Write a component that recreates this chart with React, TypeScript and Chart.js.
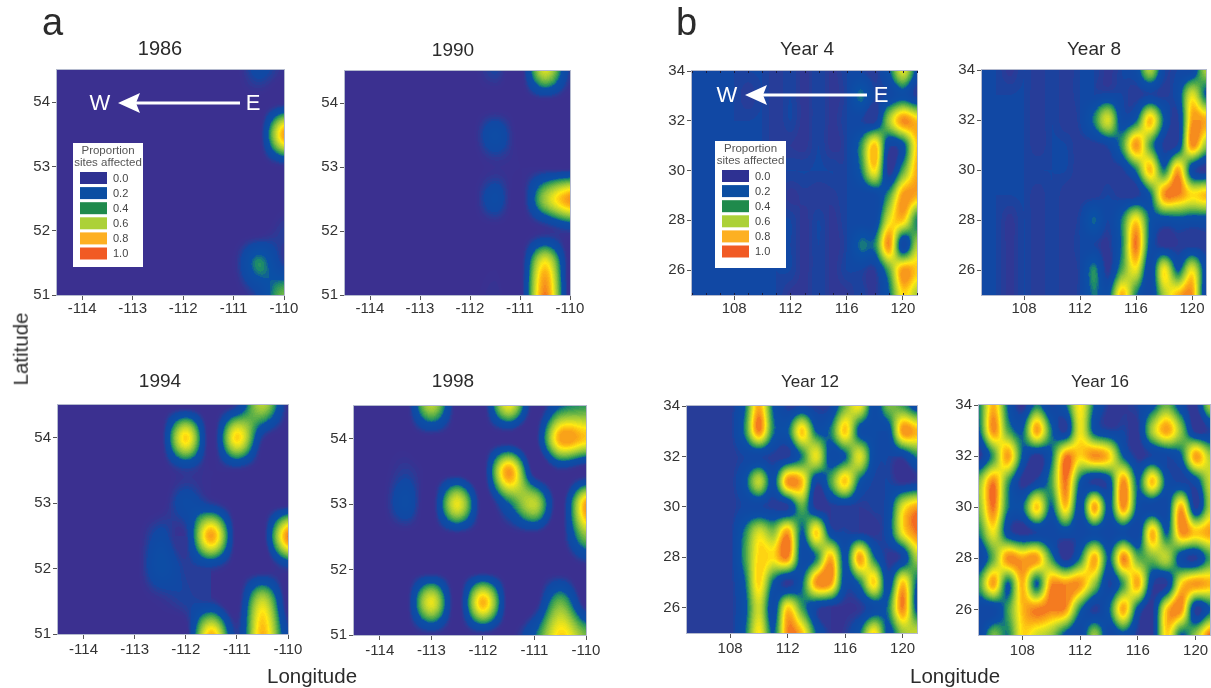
import React, { useEffect, useRef } from "react";
import { Chart, registerables } from "chart.js";

Chart.register(...registerables);

// ---------- data ----------
const lonA = [-114.5, -114, -113.5, -113, -112.5, -112, -111.5, -111, -110.5, -110];
const latA = [54.5, 54, 53.5, 53, 52.5, 52, 51.5, 51];
const lonB = [105, 106, 107, 108, 109, 110, 111, 112, 113, 114, 115, 116, 117, 118, 119, 120, 121];
const latB = [34, 33, 32, 31, 30, 29, 28, 27, 26, 25];
const lonTicksA = [-114, -113, -112, -111, -110];
const latTicksA = [51, 52, 53, 54];
const lonTicksB = [108, 112, 116, 120];
const latTicksB = [26, 28, 30, 32, 34];
const legendValues = ["0.0", "0.2", "0.4", "0.6", "0.8", "1.0"];
const legendColors = ["#2e3192", "#0b4ea2", "#1f8a4c", "#acd137", "#fdb022", "#f15a24"];

const grid1986 = [
  [0, 0, 0, 0, 0, 0, 0, 0, 0.17, 0.05],
  [0, 0, 0, 0, 0, 0, 0, 0, 0, 0.03],
  [0, 0, 0, 0, 0, 0, 0, 0, 0, 0.9],
  [0, 0, 0, 0, 0, 0, 0, 0, 0, 0.05],
  [0, 0, 0, 0, 0, 0, 0, 0, 0, 0],
  [0, 0, 0, 0, 0, 0, 0, 0, 0, 0.1],
  [0, 0, 0, 0, 0, 0, 0, 0.04, 0.37, 0.1],
  [0, 0, 0, 0, 0, 0, 0, 0, 0.15, 0.5],
];
const grid1990 = [
  [0, 0, 0, 0, 0, 0, 0.12, 0, 0.68, 0.1],
  [0, 0, 0, 0, 0, 0, 0, 0, 0, 0],
  [0, 0, 0, 0, 0, 0, 0.22, 0, 0, 0],
  [0, 0, 0, 0, 0, 0, 0.05, 0.03, 0.03, 0.02],
  [0, 0, 0, 0, 0, 0, 0.2, 0, 0.58, 0.93],
  [0, 0, 0, 0, 0, 0, 0, 0, 0.05, 0.1],
  [0, 0, 0, 0, 0, 0, 0.02, 0, 0.76, 0],
  [0, 0, 0, 0, 0, 0, 0.07, 0, 0.96, 0],
];
const grid1994 = [
  [0, 0, 0, 0, 0, 0, 0, 0.1, 0.62, 0.05],
  [0, 0, 0, 0, 0, 0.8, 0, 0.8, 0.1, 0],
  [0, 0, 0, 0, 0, 0.1, 0.03, 0.05, 0, 0],
  [0, 0, 0, 0, 0, 0.2, 0.1, 0, 0, 0],
  [0, 0, 0, 0, 0.17, 0.08, 0.9, 0, 0, 0.96],
  [0, 0, 0, 0, 0.24, 0.1, 0.1, 0, 0, 0.1],
  [0, 0, 0, 0, 0.05, 0.12, 0.1, 0, 0.66, 0],
  [0, 0, 0, 0, 0, 0, 0.85, 0.1, 0.86, 0.15],
];
const grid1998 = [
  [0, 0, 0, 0.62, 0, 0, 0.72, 0, 0.3, 0.4],
  [0, 0, 0, 0, 0, 0, 0, 0, 0.9, 0.82],
  [0, 0, 0.1, 0, 0, 0, 0.92, 0, 0.05, 0],
  [0, 0, 0.22, 0, 0.72, 0, 0.3, 0.64, 0, 0.9],
  [0, 0, 0, 0, 0, 0, 0, 0, 0, 0.52],
  [0, 0, 0, 0, 0, 0, 0, 0, 0, 0],
  [0, 0, 0, 0.72, 0, 0.86, 0, 0, 0.48, 0],
  [0, 0, 0, 0.05, 0, 0.05, 0, 0.3, 0.8, 0.5],
];
const gridYear4 = [
  [.13,.13,.13,.13,.13,.13,.09,.13,.08,.13,.08,.13,.13,.09,.28,.7,.25],
  [.13,.13,.13,.13,.09,.13,.09,.13,.08,.13,.08,.13,.34,.13,.15,.25,.1],
  [.13,.13,.13,.13,.13,.13,.09,.13,.08,.13,.08,.13,.13,.09,.58,.94,.84],
  [.13,.13,.13,.13,.13,.13,.09,.09,.08,.13,.08,.13,.38,.84,.15,.25,.82],
  [.13,.13,.13,.13,.13,.13,.13,.13,.13,.13,.13,.13,.33,.76,.07,.45,.88],
  [.13,.13,.13,.13,.13,.13,.13,.08,.1,.09,.1,.13,.13,.15,.42,.92,.88],
  [.13,.13,.13,.13,.13,.13,.13,.13,.08,.13,.08,.13,.13,.15,.7,.82,.35],
  [.13,.13,.13,.13,.13,.13,.13,.13,.08,.13,.08,.13,.34,.36,.93,.15,.6],
  [.13,.13,.13,.13,.13,.13,.13,.13,.08,.13,.08,.13,.13,.1,.45,.92,.82],
  [.13,.13,.13,.13,.13,.13,.13,.08,.08,.13,.08,.08,.13,.08,.3,.78,.6],
];
const gridYear8 = [
  [.13,.13,.08,.13,.09,.13,.09,.13,.13,.08,.13,.2,.6,.15,.13,.15,.6],
  [.13,.13,.13,.13,.09,.13,.09,.13,.13,.15,.13,.09,.13,.1,.2,.7,.3],
  [.13,.13,.13,.13,.09,.13,.09,.13,.35,.68,.2,.3,.84,.3,.1,.9,.88],
  [.13,.13,.13,.13,.09,.13,.13,.09,.09,.15,.4,.92,.45,.1,.15,.94,.58],
  [.13,.13,.13,.13,.13,.13,.13,.09,.09,.09,.1,.35,.84,.35,.88,.2,.07],
  [.13,.13,.13,.13,.09,.13,.09,.09,.09,.13,.09,.09,.3,.92,.95,.78,.84],
  [.13,.13,.08,.13,.09,.13,.09,.13,.32,.13,.35,.78,.3,.22,.25,.22,.22],
  [.13,.13,.08,.13,.09,.13,.09,.13,.13,.08,.35,.97,.25,.07,.09,.09,.09],
  [.13,.13,.08,.13,.09,.13,.09,.13,.37,.08,.45,.72,.15,.75,.3,.72,.2],
  [.13,.13,.08,.13,.09,.13,.09,.13,.34,.25,.86,.35,.13,.6,.86,.93,.12],
];
const gridYear12 = [
  [.09,.09,.09,.09,.3,.88,.3,.1,.13,.1,.13,.5,.74,.2,.5,.42,.2],
  [.09,.09,.09,.09,.35,.95,.35,.3,.82,.3,.35,.82,.25,.2,.2,.92,.86],
  [.09,.09,.09,.09,.13,.14,.1,.1,.35,.72,.2,.3,.7,.2,.13,.13,.35],
  [.09,.09,.09,.09,.25,.64,.25,.93,.84,.15,.42,.82,.3,.12,.13,.06,.1],
  [.09,.09,.09,.09,.14,.14,.1,.1,.46,.07,.09,.1,.09,.12,.18,.7,.9],
  [.09,.09,.09,.09,.35,.68,.54,.9,.3,.8,.2,.13,.1,.07,.2,.74,.97],
  [.09,.09,.09,.09,.4,.8,.78,.95,.2,.35,.86,.25,.9,.35,.08,.15,.6],
  [.09,.09,.09,.09,.3,.8,.3,.08,.3,.93,.93,.2,.35,.8,.2,.82,.3],
  [.09,.09,.09,.09,.25,.66,.2,.8,.42,.15,.07,.06,.08,.2,.35,.95,.25],
  [.09,.09,.09,.09,.3,.76,.3,.95,.84,.3,.08,.09,.3,.78,.25,.56,.66],
];
const gridYear16 = [
  [.35,.86,.3,.06,.35,.12,.3,.76,.3,.08,.08,.13,.25,.48,.2,.07,.6],
  [.3,.94,.45,.3,.9,.35,.1,.72,.25,.13,.13,.08,.6,.9,.54,.07,.12],
  [.07,.42,.9,.3,.07,.3,.95,.8,.94,.82,.3,.08,.13,.13,.3,.9,.6],
  [.54,.95,.42,.07,.15,.42,.97,.3,.09,.2,.94,.3,.84,.25,.12,.2,.66],
  [.54,.97,.35,.3,.82,.3,.82,.2,.9,.25,.94,.25,.13,.15,.88,.1,.6],
  [.35,.72,.2,.07,.13,.13,.2,.13,.2,.13,.2,.13,.86,.3,.93,.82,.9],
  [.13,.48,.94,.9,.92,.42,.07,.35,.88,.3,.95,.48,.5,.62,.2,.1,.42],
  [.42,.9,.3,.86,.3,.92,.93,.92,.56,.12,.42,.88,.15,.1,.78,.92,.86],
  [.13,.15,.42,.84,.96,.96,.92,.35,.1,.3,.88,.25,.08,.82,.94,.1,.3],
  [.13,.5,.35,.78,.68,.56,.25,.13,.56,.13,.25,.09,.08,.8,.3,.56,.99],
];

// ---------- colour ramp ----------
const rampAt = [0, 0.05, 0.09, 0.14, 0.3, 0.36, 0.44, 0.54, 0.66, 0.76, 0.85, 0.93, 1.0];
const rampRgb = [
  [59, 48, 144], [58, 49, 145], [44, 58, 150], [17, 72, 164], [10, 80, 166], [29, 138, 106], [77, 169, 74],
  [140, 194, 63], [201, 218, 42], [255, 233, 18], [253, 185, 19], [247, 148, 29], [241, 90, 36],
];
function colourOf(v: number) {
  const q = Math.max(0, Math.min(1, Math.round(v * 50) / 50));
  let i = 0;
  while (i < rampAt.length - 2 && q > rampAt[i + 1]) i++;
  const t = (q - rampAt[i]) / (rampAt[i + 1] - rampAt[i]);
  return rampRgb[i].map((c, k) => c + (rampRgb[i + 1][k] - c) * t);
}

function cubic(a: number, b: number, c: number, d: number, t: number) {
  return b + 0.5 * t * (c - a + t * (2 * a - 5 * b + 4 * c - d + t * (3 * (b - c) + d - a)));
}

const heatmapPlugin = {
  id: "heatmap",
  beforeDatasetsDraw(chart: any) {
    const pts = chart.data.datasets[0].data;
    const xs = Array.from(new Set(pts.map((p: any) => p.x))).sort((a: any, b: any) => a - b) as number[];
    const ys = Array.from(new Set(pts.map((p: any) => p.y))).sort((a: any, b: any) => a - b) as number[];
    const g: number[][] = ys.map(() => xs.map(() => 0));
    pts.forEach((p: any) => {
      g[ys.indexOf(p.y)][xs.indexOf(p.x)] = p.v;
    });
    const at = (r: number, c: number) =>
      g[Math.max(0, Math.min(ys.length - 1, r))][Math.max(0, Math.min(xs.length - 1, c))];
    const { left, top, width, height } = chart.chartArea;
    const W = Math.round(width);
    const H = Math.round(height);
    const img = chart.ctx.createImageData(W, H);
    const xScale = chart.scales.x;
    const yScale = chart.scales.y;
    const dx = xs[1] - xs[0];
    const dy = ys[1] - ys[0];
    for (let py = 0; py < H; py++) {
      const fy = (yScale.getValueForPixel(top + py + 0.5) - ys[0]) / dy;
      const r = Math.max(0, Math.min(ys.length - 2, Math.floor(fy)));
      const ty = fy - r;
      for (let px = 0; px < W; px++) {
        const fx = (xScale.getValueForPixel(left + px + 0.5) - xs[0]) / dx;
        const c = Math.max(0, Math.min(xs.length - 2, Math.floor(fx)));
        const tx = fx - c;
        const rows = [-1, 0, 1, 2].map((o) =>
          cubic(at(r + o, c - 1), at(r + o, c), at(r + o, c + 1), at(r + o, c + 2), tx)
        );
        const corners = [at(r, c), at(r, c + 1), at(r + 1, c), at(r + 1, c + 1)];
        const v = Math.max(
          Math.min(...corners),
          Math.min(Math.max(...corners), cubic(rows[0], rows[1], rows[2], rows[3], ty))
        );
        const rgb = colourOf(v);
        const i = (py * W + px) * 4;
        img.data[i] = rgb[0];
        img.data[i + 1] = rgb[1];
        img.data[i + 2] = rgb[2];
        img.data[i + 3] = 255;
      }
    }
    chart.ctx.putImageData(img, left, top);
    chart.ctx.save();
    chart.ctx.strokeStyle = "#b4bace";
    chart.ctx.lineWidth = 1;
    chart.ctx.strokeRect(left - 0.5, top - 0.5, W + 1, H + 1);
    chart.ctx.restore();
  },
};

// In-plot key and direction arrow
function overlayPlugin(o: any) {
  return {
    id: "overlay",
    afterDatasetsDraw(chart: any) {
      if (!o) return;
      const { ctx, chartArea } = chart;
      const L = chartArea.left;
      const T = chartArea.top;
      ctx.save();
      if (o.edgeTicks) {
        ctx.strokeStyle = "#1a1a3a";
        ctx.lineWidth = 1;
        ctx.beginPath();
        lonB.forEach((lon) => {
          const x = Math.round(chart.scales.x.getPixelForValue(lon)) + 0.5;
          ctx.moveTo(x, chartArea.top);
          ctx.lineTo(x, chartArea.top + 2);
          ctx.moveTo(x, chartArea.bottom);
          ctx.lineTo(x, chartArea.bottom - 2);
        });
        ctx.stroke();
      }
      // arrow
      ctx.strokeStyle = "#fff";
      ctx.fillStyle = "#fff";
      ctx.lineWidth = 3;
      ctx.beginPath();
      ctx.moveTo(L + o.arrowTail, T + o.arrowY);
      ctx.lineTo(L + o.arrowTip + 12, T + o.arrowY);
      ctx.stroke();
      ctx.beginPath();
      ctx.moveTo(L + o.arrowTip, T + o.arrowY);
      ctx.lineTo(L + o.arrowTip + 22, T + o.arrowY - 10);
      ctx.lineTo(L + o.arrowTip + 18, T + o.arrowY);
      ctx.lineTo(L + o.arrowTip + 22, T + o.arrowY + 10);
      ctx.closePath();
      ctx.fill();
      ctx.font = "22px 'Liberation Sans'";
      ctx.textAlign = "center";
      ctx.textBaseline = "middle";
      ctx.fillText("W", L + o.wX, T + o.arrowY + 1);
      ctx.fillText("E", L + o.eX, T + o.arrowY + 1);
      // key
      const bx = L + o.keyX;
      const by = T + o.keyY;
      ctx.fillStyle = "#fff";
      ctx.fillRect(bx, by, o.keyW, o.keyH);
      ctx.fillStyle = "#555";
      ctx.font = "11.5px 'Liberation Sans'";
      ctx.fillText("Proportion", bx + o.keyW / 2, by + 7.5);
      ctx.fillText("sites affected", bx + o.keyW / 2, by + 20);
      legendValues.forEach((label, i) => {
        const y = by + 29 + i * 15.1;
        ctx.fillStyle = legendColors[i];
        ctx.fillRect(bx + 7, y, 27, 12);
        ctx.fillStyle = "#444";
        ctx.textAlign = "left";
        ctx.font = "11px 'Liberation Sans'";
        ctx.fillText(label, bx + 40, y + 6.5);
        ctx.textAlign = "center";
      });
      ctx.restore();
    },
  };
}

const overlayA = { arrowTail: 183, arrowTip: 61, arrowY: 33, wX: 43, eX: 196, keyX: 16, keyY: 73, keyW: 70, keyH: 124 };
const overlayB = { arrowTail: 175, arrowTip: 53, arrowY: 24, wX: 35, eX: 189, keyX: 23, keyY: 70, keyW: 71, keyH: 127, edgeTicks: true };

const panels = [
  { title: "1986", grid: grid1986, set: "a", tc: 160, ty: 49, ts: 20, pad: 0, l: 57, r: 284, t: 70, b: 295, overlay: overlayA },
  { title: "1990", grid: grid1990, set: "a", tc: 453, ty: 50, ts: 19, pad: 0, l: 345, r: 570, t: 71, b: 295 },
  { title: "1994", grid: grid1994, set: "a", tc: 160, ty: 381, ts: 19, pad: 2, l: 58, r: 288, t: 405, b: 634 },
  { title: "1998", grid: grid1998, set: "a", tc: 453, ty: 381, ts: 19, pad: 2, l: 354, r: 586, t: 406, b: 635 },
  { title: "Year 4", grid: gridYear4, set: "b", tc: 807, ty: 49, ts: 19, pad: 0, l: 692, r: 917, t: 71, b: 295, overlay: overlayB },
  { title: "Year 8", grid: gridYear8, set: "b", tc: 1094, ty: 49, ts: 19, pad: 0, l: 982, r: 1206, t: 70, b: 295 },
  { title: "Year 12", grid: gridYear12, set: "b", tc: 810, ty: 382, ts: 17, pad: 2, l: 687, r: 917, t: 406, b: 633 },
  { title: "Year 16", grid: gridYear16, set: "b", tc: 1100, ty: 382, ts: 17, pad: 2, l: 979, r: 1210, t: 405, b: 635 },
];

const BOTTOM = 40;
const textFont = "'Liberation Sans', Arial, sans-serif";

function frame(p: any) {
  const halfW = Math.max(p.tc - (p.l - 42), p.r + 20 - p.tc);
  const left = p.tc - halfW;
  const top = Math.round(p.ty - p.ts / 2 - 2);
  return { left, top, width: halfW * 2, height: p.b + BOTTOM - top };
}

function Panel({ p }: { p: any }) {
  const ref = useRef<HTMLCanvasElement>(null);
  const f = frame(p);
  useEffect(() => {
    const lons = p.set === "a" ? lonA : lonB;
    const lats = p.set === "a" ? latA : latB;
    const xTicks = p.set === "a" ? lonTicksA : lonTicksB;
    const yTicks = p.set === "a" ? latTicksA : latTicksB;
    const points: any[] = [];
    lats.forEach((lat, r) => lons.forEach((lon, c) => points.push({ x: lon, y: lat, v: p.grid[r][c] })));
    const tickFont = { family: textFont, size: 15 };
    const chart = new Chart(ref.current as any, {
      type: "scatter",
      data: { datasets: [{ label: p.title, data: points, pointRadius: 0, pointHoverRadius: 0, showLine: false }] },
      plugins: [heatmapPlugin, overlayPlugin(p.overlay)],
      options: {
        animation: false,
        responsive: false,
        events: [],
        plugins: {
          legend: { display: false },
          tooltip: { enabled: false },
          title: {
            display: true,
            text: p.title,
            color: "#2b2b2b",
            font: { family: textFont, size: p.ts, weight: "normal", lineHeight: 1 },
            padding: { top: 2, bottom: p.t - f.top - p.ts - 2 },
          },
        },
        scales: {
          x: {
            type: "linear",
            min: lons[0],
            max: lons[lons.length - 1],
            afterBuildTicks: (s: any) => { s.ticks = xTicks.map((value) => ({ value })); },
            afterFit: (s: any) => {
              s.height = BOTTOM;
              s.paddingLeft = 0;
              s.paddingRight = f.left + f.width - p.r;
            },
            grid: { display: true, drawOnChartArea: false, drawTicks: true, tickLength: 5, color: "#555", tickColor: "#555" },
            border: { display: false },
            ticks: { autoSkip: false, maxRotation: 0, padding: p.pad, color: "#333", font: tickFont, callback: (v: any) => String(v) },
          },
          y: {
            type: "linear",
            min: lats[lats.length - 1],
            max: lats[0],
            afterBuildTicks: (s: any) => { s.ticks = yTicks.map((value) => ({ value })); },
            afterFit: (s: any) => { s.width = p.l - f.left; s.paddingTop = 0; s.paddingBottom = 0; },
            grid: { display: true, drawOnChartArea: false, drawTicks: true, tickLength: 5, color: "#555", tickColor: "#555" },
            border: { display: false },
            ticks: { autoSkip: false, padding: 2, color: "#333", font: tickFont, callback: (v: any) => String(v) },
          },
        },
      } as any,
    } as any);
    return () => chart.destroy();
  }, []);
  return (
    <canvas
      ref={ref}
      width={f.width}
      height={f.height}
      style={{ position: "absolute", left: f.left, top: f.top, width: f.width, height: f.height, display: "block" }}
    />
  );
}

const label = (text: string, style: any) => (
  <div style={{ position: "absolute", fontFamily: textFont, color: "#2b2b2b", whiteSpace: "nowrap", lineHeight: 1, ...style }}>
    {text}
  </div>
);

export default function App() {
  return (
    <div
      style={{
        position: "fixed",
        left: 0,
        top: 0,
        width: 1211,
        height: 688,
        overflow: "hidden",
        background: "#fff",
        filter: "blur(0.5px)",
      }}
    >
      {panels.map((p) => (
        <Panel key={p.title} p={p} />
      ))}
      {label("a", { left: 42, top: 3, fontSize: 38 })}
      {label("b", { left: 676, top: 3, fontSize: 38 })}
      {label("Longitude", { left: 267, top: 666, fontSize: 20.5 })}
      {label("Longitude", { left: 910, top: 666, fontSize: 20.5 })}
      {label("Latitude", { left: 21, top: 349, fontSize: 20.5, transform: "translate(-50%,-50%) rotate(-90deg)" })}
    </div>
  );
}
